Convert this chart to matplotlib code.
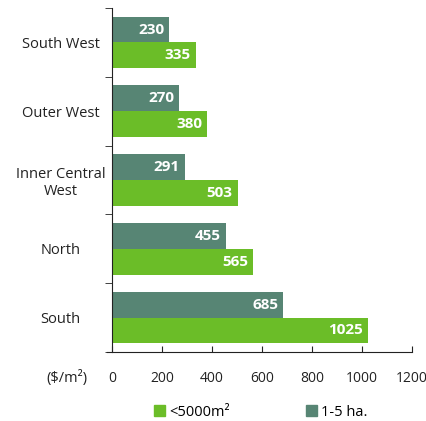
import numpy as np
import matplotlib.pyplot as plt
from matplotlib.patches import Patch

# land value by region, $/m2
regions = ['South West', 'Outer West', 'Inner Central\nWest', 'North', 'South']
small_lots = [335, 380, 503, 565, 1025]   # <5000m2
large_lots = [230, 270, 291, 455, 685]    # 1-5 ha.
xticks = [0, 200, 400, 600, 800, 1000, 1200]

green = '#6bbd28'
grey = '#578574'

plt.rcParams['font.family'] = ['Open Sans', 'DejaVu Sans']
plt.rcParams['font.size'] = 10.5

fig = plt.figure(figsize=(4.27, 4.21), dpi=100)
ax = fig.add_axes([112/427, 1-352/421, 300/427, 344/421])

y = np.arange(len(regions))
h = 0.375
b1 = ax.barh(y - h/2, large_lots, height=h, color=grey)
b2 = ax.barh(y + h/2, small_lots, height=h, color=green)

for bars, vals in ((b1, large_lots), (b2, small_lots)):
    for bar, v in zip(bars, vals):
        ax.text(v - 20, bar.get_y() + bar.get_height()/2, str(v),
                ha='right', va='center', color='white', fontweight='bold', fontsize=11)

ax.set_xlim(0, 1200)
ax.set_ylim(len(regions) - 0.5, -0.5)
ax.set_xticks(xticks)
ax.set_yticks(y)
ax.set_yticklabels(regions, ha='center')
ax.set_yticks(np.arange(-0.5, len(regions)), minor=True)
ax.tick_params(axis='y', which='major', length=0, pad=37, labelcolor='#222222')
ax.tick_params(axis='y', which='minor', length=5, direction='out', color='#222222')
ax.tick_params(axis='x', length=4, direction='in', pad=14, color='#222222',
               labelcolor='#222222', labelsize=10)
for s in ('top', 'right'):
    ax.spines[s].set_visible(False)
ax.spines['left'].set_color('#222222')
ax.spines['bottom'].set_color('#222222')
ax.spines['bottom'].set_bounds(-18, 1200)

fig.text(67/427, 1-378/421, '($/m²)', ha='center', va='center', color='#222222')

handles = [Patch(color=green, label='<5000m²'), Patch(color=grey, label='1-5 ha.')]
fig.legend(handles=handles, ncol=2, loc='center', bbox_to_anchor=(261/427, 1-412/421),
           frameon=False, handlelength=0.75, handleheight=0.75, handletextpad=0.3,
           columnspacing=5.2, borderaxespad=0, borderpad=0)

fig.savefig('out.png', dpi=100)
